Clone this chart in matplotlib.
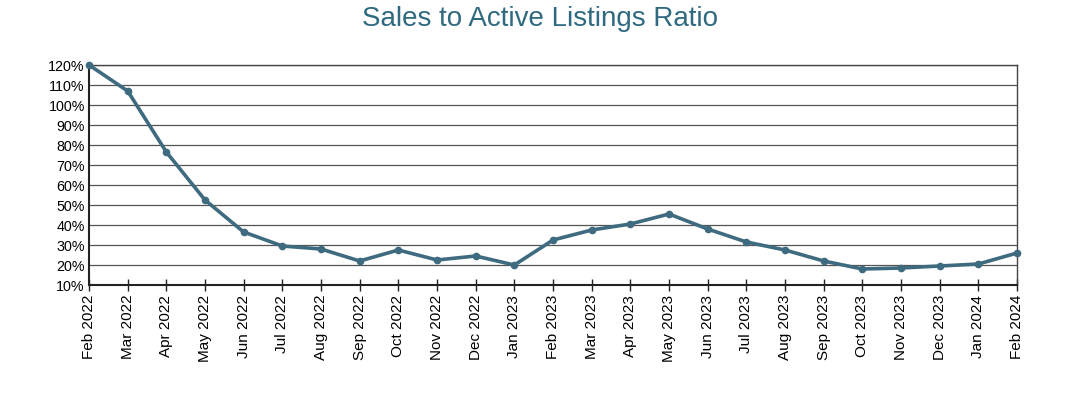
import matplotlib
matplotlib.use("Agg")
import matplotlib.pyplot as plt

plt.rcParams['font.family'] = ['Liberation Sans', 'DejaVu Sans']

months = ["Feb 2022", "Mar 2022", "Apr 2022", "May 2022", "Jun 2022", "Jul 2022",
          "Aug 2022", "Sep 2022", "Oct 2022", "Nov 2022", "Dec 2022", "Jan 2023",
          "Feb 2023", "Mar 2023", "Apr 2023", "May 2023", "Jun 2023", "Jul 2023",
          "Aug 2023", "Sep 2023", "Oct 2023", "Nov 2023", "Dec 2023", "Jan 2024",
          "Feb 2024"]
ratio = [120, 107, 76.5, 52.5, 36.5, 29.5, 28, 22, 27.5, 22.5, 24.5, 20,
         32.5, 37.5, 40.5, 45.5, 38, 31.5, 27.5, 22, 18, 18.5, 19.5, 20.5, 26]
yticks = list(range(10, 130, 10))

line_color = "#3e6b7f"
fig = plt.figure(figsize=(10.8, 3.93), dpi=100)
ax = fig.add_axes([0.0824, 0.2748, 0.8593, 0.5598])
x = list(range(len(months)))
ax.plot(x, ratio, color=line_color, lw=2.6, marker='o', ms=4.5, zorder=3, clip_on=False)
ax.set_xlim(0, len(months) - 1)
ax.set_ylim(10, 120)
ax.set_yticks(yticks)
ax.set_yticklabels([f"{v}%" for v in yticks], fontsize=10.3)
ax.set_xticks(x)
ax.set_xticklabels(months, rotation=90, fontsize=11)
ax.grid(axis='y', color='#555555', lw=0.9)
ax.set_axisbelow(True)
for s in ax.spines.values():
    s.set_color('#444444')
    s.set_linewidth(1.0)
ax.spines['left'].set_linewidth(1.5)
ax.spines['bottom'].set_linewidth(1.5)
ax.spines['bottom'].set_color('#222222')
ax.spines['left'].set_color('#222222')
ax.tick_params(axis='x', direction='inout', length=8, width=1, color='#222222', pad=3)
ax.tick_params(axis='y', length=0, pad=3)
fig.suptitle("Sales to Active Listings Ratio", x=0.5, y=0.985, fontsize=20, color="#2f6a80")
fig.savefig("out.png", dpi=100)
